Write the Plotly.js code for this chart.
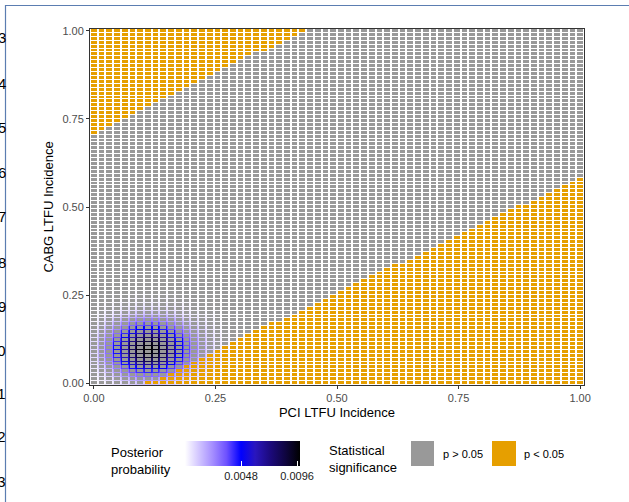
<!DOCTYPE html>
<html>
<head>
<meta charset="utf-8">
<script src="https://cdn.plot.ly/plotly-3.0.1.min.js"></script>
<style>html,body{margin:0;padding:0;background:#fff;}#chart{width:629px;height:502px;}</style>
</head>
<body>
<div id="chart"></div>
<script>
// ---- grid (LTFU incidence k/n for each arm) ----
const nPCI = 63;
const nCABG = 90;

// ---- statistical significance: per PCI column, first orange row of the upper band (91 = none)
const upperSigStartRow = [64,65,66,67,68,69,70,71,72,73,74,75,76,77,78,79,80,81,82,83,84,85,85,86,87,88,89,90,
  91,91,91,91,91,91,91,91,91,91,91,91,91,91,91,91,91,91,91,91,91,91,91,91,91,91,91,91,91,91,91,91,91,91];
// ---- per PCI column, last orange row of the lower band (-1 = none)
const lowerSigEndRow = [-1,-1,-1,-1,-1,-1,-1,0,0,1,2,3,4,5,6,7,8,9,10,11,12,13,14,15,15,16,17,18,19,20,21,22,23,24,25,
  26,27,28,29,30,30,31,32,33,34,35,36,37,38,39,40,41,42,43,44,45,45,46,47,48,49,50,51,52];

// ---- posterior probability: relative weights along PCI columns and CABG rows, and peak value
const postWeightX = [0.08,0.17,0.30,0.47,0.66,0.83,0.95,1.00,0.97,0.87,0.71,0.54,0.38,0.25,0.15,0.085,0.045,0.022,0.010,0.004];
const postWeightY = [0.13,0.21,0.31,0.43,0.56,0.70,0.82,0.92,0.98,1.00,0.965,0.887,0.777,0.647,0.513,0.388,0.278,0.19,0.124,0.076,0.045,0.025,0.014,0.0068,0.0033];
const postPeak = 0.00985;

// ---- ticks / labels
const axisTickVals = [0, 0.25, 0.5, 0.75, 1];
const axisTickText = ['0.00', '0.25', '0.50', '0.75', '1.00'];
const postTickVals = [0.0048, 0.0096];
const postTickText = ['0.0048', '0.0096'];
const sigLabels = ['p > 0.05', 'p < 0.05'];
const sigColors = ['#999999', '#E69F00'];
const sideNumbers = ['3','4','5','6','7','8','9','10','11','12','13'];

const xVals = Array.from({length: nPCI + 1}, (_, i) => i / nPCI);
const yVals = Array.from({length: nCABG + 1}, (_, j) => j / nCABG);

const zSig = yVals.map((_, j) => xVals.map((_, i) =>
  (j >= upperSigStartRow[i] || j <= lowerSigEndRow[i]) ? 1 : 0));
const zPost = yVals.map((_, j) => xVals.map((_, i) =>
  postPeak * (postWeightX[i] || 0) * (postWeightY[j] || 0)));

const FONT = 'Liberation Sans, Arial, Helvetica, sans-serif';

const postScale = [
  [0, '#FFFFFF'], [0.12, '#D2C6FF'], [0.24, '#A58EFF'], [0.36, '#6E52FF'],
  [0.487, '#0000FF'], [0.61, '#2A16BE'], [0.74, '#1C0A7D'], [0.87, '#0F0541'], [1, '#000000']
];

const traces = [
  {
    type: 'heatmap', x: xVals, y: yVals, z: zPost,
    colorscale: postScale, zmin: 0, zmax: postPeak, zsmooth: false,
    hoverinfo: 'skip',
    showscale: true,
    colorbar: {
      orientation: 'h', x: (185 - 90) / 494, xanchor: 'left', y: (385 - 441) / 356, yanchor: 'top',
      len: 115, lenmode: 'pixels', thickness: 25, thicknessmode: 'pixels',
      xpad: 0, ypad: 0, outlinewidth: 0,
      tickmode: 'array', tickvals: postTickVals, ticktext: postTickText,
      ticks: 'inside', ticklen: 5, tickcolor: '#FFFFFF', tickwidth: 1,
      tickfont: {family: FONT, size: 11, color: '#1a1a1a'}
    }
  },
  {
    type: 'heatmap', x: xVals, y: yVals, z: zSig,
    colorscale: [[0, sigColors[0]], [0.5, sigColors[0]], [0.5, sigColors[1]], [1, sigColors[1]]],
    zmin: 0, zmax: 1, zsmooth: false, xgap: 2, ygap: 1,
    showscale: false, hoverinfo: 'skip'
  }
];

const px = v => (v - 90) / 494;
const py = v => (385 - v) / 356;

const annotations = [
  {text: 'Posterior<br>probability', x: px(109), y: py(461), xanchor: 'left', yanchor: 'middle', align: 'left'},
  {text: 'Statistical<br>significance', x: px(327), y: py(459), xanchor: 'left', yanchor: 'middle', align: 'left'},
  {text: sigLabels[0], x: px(441), y: py(454), xanchor: 'left', yanchor: 'middle', font: {size: 11}},
  {text: sigLabels[1], x: px(522), y: py(454), xanchor: 'left', yanchor: 'middle', font: {size: 11}}
].map(a => Object.assign({xref: 'paper', yref: 'paper', showarrow: false},
  a, {font: Object.assign({family: FONT, size: 13, color: '#000'}, a.font || {})}));

const sideYs = [37, 83, 128, 172, 216, 262, 306, 350, 393, 436, 481];
sideNumbers.forEach((t, k) => annotations.push({
  text: t, xref: 'paper', yref: 'paper', x: px(8), y: py(sideYs[k]), xanchor: 'right', yanchor: 'middle',
  showarrow: false, font: {family: FONT, size: 15, color: '#000'}
}));

const shapes = [
  {type: 'rect', xref: 'paper', yref: 'paper', x0: px(411), x1: px(434), y0: py(441), y1: py(466), fillcolor: sigColors[0], line: {width: 0}},
  {type: 'rect', xref: 'paper', yref: 'paper', x0: px(492), x1: px(516), y0: py(441), y1: py(466), fillcolor: sigColors[1], line: {width: 0}},
  {type: 'line', xref: 'paper', yref: 'paper', x0: px(5.5), x1: px(5.5), y0: py(5), y1: py(502), line: {color: '#5B7DB1', width: 1.2}},
  {type: 'line', xref: 'paper', yref: 'paper', x0: px(5.5), x1: px(629), y0: py(5.5), y1: py(5.5), line: {color: '#5B7DB1', width: 1.2}}
];

const axisCommon = {
  tickmode: 'array', tickvals: axisTickVals, ticktext: axisTickText,
  ticks: 'outside', ticklen: 3, tickwidth: 1, tickcolor: '#333333',
  tickfont: {family: FONT, size: 11, color: '#4D4D4D'},
  showgrid: false, zeroline: false, showline: true, mirror: true,
  linecolor: '#333333', linewidth: 1
};

const layout = {
  width: 629, height: 502,
  margin: {l: 90, r: 45, t: 29, b: 117},
  paper_bgcolor: '#FFFFFF', plot_bgcolor: '#FFFFFF',
  showlegend: false,
  font: {family: FONT},
  xaxis: Object.assign({}, axisCommon, {
    range: [-0.5 / nPCI, 1 + 0.5 / nPCI],
    title: {text: 'PCI LTFU Incidence', font: {family: FONT, size: 13, color: '#000'}, standoff: 4}
  }),
  yaxis: Object.assign({}, axisCommon, {
    range: [-0.5 / nCABG, 1 + 0.5 / nCABG],
    title: {text: 'CABG LTFU Incidence', font: {family: FONT, size: 13, color: '#000'}, standoff: 5}
  }),
  annotations: annotations,
  shapes: shapes
};

Plotly.newPlot('chart', traces, layout, {staticPlot: true, displayModeBar: false});
</script>
</body>
</html>
